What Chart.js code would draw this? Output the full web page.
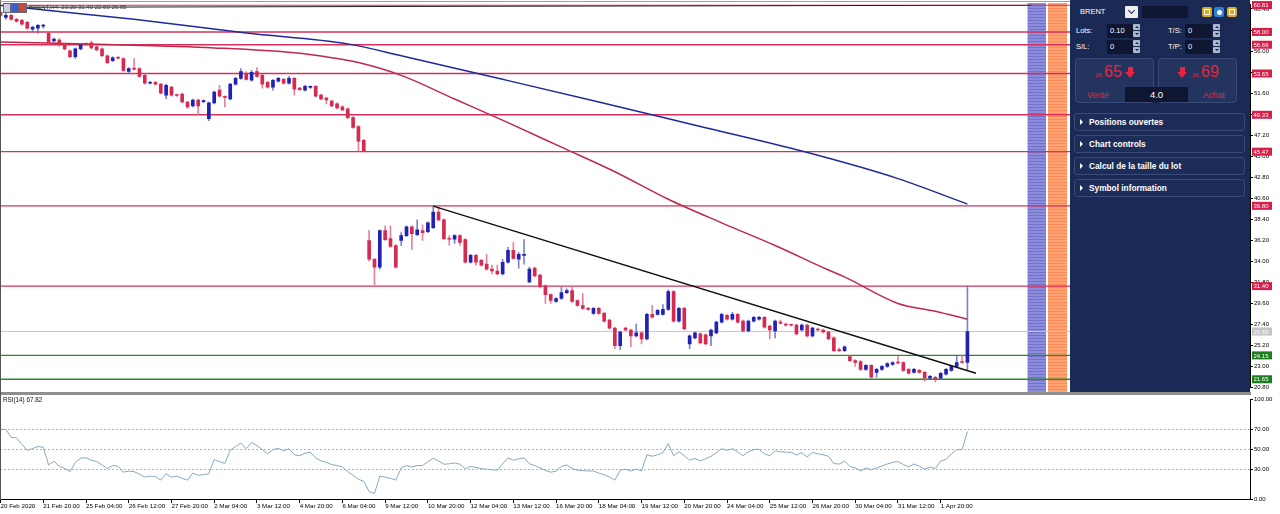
<!DOCTYPE html>
<html><head><meta charset="utf-8">
<script src="https://cdn.jsdelivr.net/npm/chart.js@4.4.1/dist/chart.umd.min.js"></script>
<style>
html,body{margin:0;padding:0;background:#fff;width:1280px;height:514px;overflow:hidden;font-family:"Liberation Sans",Arial,sans-serif;}
#wrap{position:relative;width:1280px;height:514px;}
#priceCanvas{position:absolute;left:0;top:0;z-index:2;}
#rsiCanvas{position:absolute;left:0;top:395px;z-index:2;}
.band{position:absolute;top:3px;height:389px;z-index:1;}
#bandBlue{left:1028px;width:18px;background:repeating-linear-gradient(to bottom,#8c8cdc 0px,#8c8cdc 2px,#7272c8 2px,#7272c8 3px);}
#bandOrange{left:1048px;width:19px;background:repeating-linear-gradient(to bottom,#ffa274 0px,#ffa274 2px,#ff8a56 2px,#ff8a56 3px);}
#bandLine{position:absolute;left:1027px;top:3px;width:1px;height:389px;background:#c8c8c8;z-index:1;}
#sep{position:absolute;left:0;top:392px;width:1251px;height:3px;background:#8e8e8e;z-index:3;}
#lborder{position:absolute;left:0;top:0;width:1px;height:500px;background:#555;z-index:3;}
#tborder{position:absolute;left:0;top:1px;width:1250px;height:1px;background:#a0a0a0;z-index:3;}
.hdr{position:absolute;z-index:4;font-size:6px;color:#333;white-space:nowrap;}
.mini{position:absolute;top:3px;width:6px;height:8px;z-index:4;border:1px solid #667;}
#panel{position:absolute;left:1070px;top:0;width:180px;height:392px;background:#1b2a55;z-index:5;color:#fff;}
#panel div{position:absolute;}
.t{white-space:nowrap;line-height:1;}
.lab{font-size:7.5px;}
.inp{background:#0e1631;color:#fff;font-size:7.5px;line-height:14px;padding-left:3px;box-sizing:border-box;border-radius:1px;}
.spin{width:7px;height:14px;}
.spin .up,.spin .dn{position:absolute;left:0;width:7px;height:6px;background:#aeb8cf;border-radius:1px;}
.spin .up{top:0;} .spin .dn{top:7px;}
.spin .up:after{content:"";position:absolute;left:1.5px;top:1.5px;border-left:2px solid transparent;border-right:2px solid transparent;border-bottom:2.5px solid #1b2a55;}
.spin .dn:after{content:"";position:absolute;left:1.5px;top:2px;border-left:2px solid transparent;border-right:2px solid transparent;border-top:2.5px solid #1b2a55;}
.btn{background:#23345f;border:1px solid #3a4a78;border-radius:4px;box-sizing:border-box;}
.red{color:#e8243f;}
.arrow{width:11px;height:12px;}
.arrow .stem{left:3px;top:0;width:5px;height:6px;background:#e8243f;}
.arrow .head{left:0;top:5px;width:0;height:0;border-left:5.5px solid transparent;border-right:5.5px solid transparent;border-top:6px solid #e8243f;}
.row{left:4px;width:171px;height:18px;border:1px solid #3a4a78;border-radius:3px;box-sizing:border-box;background:#1d2d5a;}
.row .tri{left:5px;top:5px;width:0;height:0;border-left:3.5px solid #fff;border-top:3px solid transparent;border-bottom:3px solid transparent;}
.row .txt{left:14px;top:0;line-height:16px;font-size:8.3px;font-weight:bold;white-space:nowrap;}
.ico{top:7px;width:10px;height:10px;border-radius:2px;}
</style>
</head>
<body>
<div id="wrap">
  <div id="bandLine"></div>
  <div id="bandBlue" class="band"></div>
  <div id="bandOrange" class="band"></div>
  <canvas id="priceCanvas" width="1280" height="392" style="width:1280px;height:392px;"></canvas>
  <canvas id="rsiCanvas" width="1280" height="119" style="width:1280px;height:119px;"></canvas>
  <div id="sep"></div>
  <div id="lborder"></div>
  <div id="tborder"></div>
  <div class="mini" style="left:3px;background:#c9cfe0;"></div>
  <div class="mini" style="left:11px;background:#3c5ccc;"></div>
  <div class="mini" style="left:19px;background:#c84848;"></div>
  <div class="hdr" style="left:29px;top:4px;">BRENT,H4&nbsp; 23.20 31.40 22.60 26.65</div>
  <div class="hdr" style="left:3px;top:396px;font-size:6.3px;color:#111;">RSI(14) 67.82</div>

  <div id="panel">
    <div class="t" style="left:10px;top:8px;font-size:7.5px;">BRENT</div>
    <div style="left:55px;top:6px;width:13px;height:12px;background:#eeeeee;border-radius:1px;">
      <div style="left:3.5px;top:2px;width:4px;height:4px;border-right:1.5px solid #1b2a55;border-bottom:1.5px solid #1b2a55;transform:rotate(45deg);"></div>
    </div>
    <div class="inp" style="left:72px;top:6px;width:46px;height:12px;"></div>
    <div class="ico" style="left:132px;background:#d6a92a;"><div style="left:2px;top:2px;width:4px;height:4px;border:1px solid #fff;"></div></div>
    <div class="ico" style="left:144px;background:#2f7fd8;"><div style="left:2.5px;top:2.5px;width:5px;height:5px;border-radius:50%;background:#fff;"></div></div>
    <div class="ico" style="left:157px;background:#d6a92a;"><div style="left:2px;top:2px;width:4px;height:4px;border:1px dashed #fff;"></div></div>

    <div class="t lab" style="left:6px;top:27px;">Lots:</div>
    <div class="inp" style="left:37px;top:24px;width:26px;height:14px;">0.10</div>
    <div class="spin" style="left:63px;top:24px;"><div class="up"></div><div class="dn"></div></div>
    <div class="t lab" style="left:98px;top:27px;">T/S:</div>
    <div class="inp" style="left:115px;top:24px;width:27px;height:14px;">0</div>
    <div class="spin" style="left:143px;top:24px;"><div class="up"></div><div class="dn"></div></div>

    <div class="t lab" style="left:6px;top:43px;">S/L:</div>
    <div class="inp" style="left:37px;top:40px;width:26px;height:14px;">0</div>
    <div class="spin" style="left:63px;top:40px;"><div class="up"></div><div class="dn"></div></div>
    <div class="t lab" style="left:98px;top:43px;">T/P:</div>
    <div class="inp" style="left:115px;top:40px;width:27px;height:14px;">0</div>
    <div class="spin" style="left:143px;top:40px;"><div class="up"></div><div class="dn"></div></div>

    <div class="btn" style="left:5px;top:58px;width:79px;height:45px;"></div>
    <div class="btn" style="left:88px;top:58px;width:79px;height:45px;"></div>
    <div class="t red" style="left:25px;top:72px;font-size:6px;">26.</div>
    <div class="t red" style="left:34px;top:64px;font-size:16px;">65</div>
    <div class="arrow" style="left:55px;top:67px;"><div class="stem"></div><div class="head"></div></div>
    <div class="t red" style="left:17px;top:91px;font-size:8.5px;">Vente</div>
    <div class="arrow" style="left:107px;top:67px;"><div class="stem"></div><div class="head"></div></div>
    <div class="t red" style="left:122px;top:72px;font-size:6px;">26.</div>
    <div class="t red" style="left:131px;top:64px;font-size:16px;">69</div>
    <div class="t red" style="left:133px;top:91px;font-size:8.5px;">Achat</div>
    <div class="inp" style="left:55px;top:87px;width:63px;height:15px;text-align:center;padding-left:0;font-size:9.5px;line-height:15px;">4.0</div>

    <div class="row" style="top:113px;"><div class="tri"></div><div class="txt">Positions ouvertes</div></div>
    <div class="row" style="top:135px;"><div class="tri"></div><div class="txt">Chart controls</div></div>
    <div class="row" style="top:157px;"><div class="tri"></div><div class="txt">Calcul de la taille du lot</div></div>
    <div class="row" style="top:179px;"><div class="tri"></div><div class="txt">Symbol information</div></div>
  </div>
</div>

<script>
// ---------------- DATA ----------------
const timeLabels = ["20 Feb 2020","21 Feb 20:00","25 Feb 04:00","26 Feb 12:00","27 Feb 20:00","2 Mar 04:00","3 Mar 12:00","4 Mar 20:00","6 Mar 04:00","9 Mar 12:00","10 Mar 20:00","12 Mar 04:00","13 Mar 12:00","16 Mar 20:00","18 Mar 04:00","19 Mar 12:00","20 Mar 20:00","24 Mar 04:00","25 Mar 12:00","26 Mar 20:00","30 Mar 04:00","31 Mar 12:00","1 Apr 20:00"];
const timeTickBars = [0,8,16,24,32,40,48,56,64,72,80,88,96,104,112,120,128,136,144,152,160,168,176];

const priceTicks = [20.8,23.0,25.2,27.4,29.6,31.8,34.0,36.2,38.4,40.6,42.8,45.0,47.2,49.4,51.6,53.8,56.0,58.2,60.4];
const rsiTicks = [0,30,50,70,100];
const rsiLevels = [30,50,70];

const open = [60.04,59.52,59.73,59.32,59.22,59.01,58.29,58.39,58.60,57.88,57.05,57.16,56.64,56.02,55.41,56.23,56.74,56.85,56.44,56.23,
55.51,55.00,55.35,55.20,53.86,54.17,54.17,53.45,52.63,52.73,52.53,51.39,52.22,51.39,51.50,50.67,50.26,50.88,50.70,48.92,
50.57,51.91,51.19,50.98,52.53,53.14,53.66,52.94,53.86,53.45,52.73,52.22,52.84,53.04,52.63,53.14,52.12,51.91,52.20,52.32,
51.39,51.08,50.77,50.47,50.16,49.95,49.03,48.10,46.66,36.17,34.21,33.39,37.20,36.37,35.65,36.17,36.68,37.61,36.78,37.20,
37.10,37.51,39.15,38.33,36.40,36.30,36.68,36.27,33.90,34.62,34.11,33.70,33.18,32.98,32.67,33.90,35.14,34.21,34.62,31.84,
33.28,32.56,31.43,30.51,29.79,30.10,30.71,30.92,29.89,29.37,29.07,28.55,29.07,28.55,27.84,27.01,25.16,27.01,26.81,26.19,
26.50,25.88,28.45,28.45,28.45,28.96,30.82,27.73,29.07,25.36,25.98,26.40,26.29,26.19,26.50,27.63,28.35,27.94,28.45,27.73,
26.70,27.73,27.94,28.14,27.22,26.70,27.63,27.42,27.32,27.32,26.81,27.32,26.19,26.91,26.81,26.60,25.98,24.75,24.64,24.02,
23.61,23.51,22.69,23.10,22.38,22.69,23.00,23.20,23.41,23.41,22.69,22.38,22.59,22.38,21.76,21.86,21.76,22.18,22.59,22.99,
23.51,23.41];
const high = [60.24,59.94,59.83,59.42,59.32,59.11,58.60,58.80,58.80,57.98,57.36,57.30,56.74,56.12,56.33,56.74,56.85,57.05,56.60,56.33,
55.61,55.41,55.45,55.30,54.27,55.20,54.27,53.55,52.83,52.83,52.63,52.53,52.32,51.50,51.60,50.77,50.98,50.98,50.90,50.67,
51.80,52.42,51.30,52.63,53.25,54.17,53.86,53.97,54.28,53.55,52.83,53.04,53.25,53.14,53.35,53.25,52.20,52.42,52.35,52.42,
51.50,51.19,50.88,50.57,50.26,50.06,49.13,48.20,46.76,37.20,34.30,37.30,37.71,37.71,35.75,36.99,37.71,37.71,38.33,37.81,
38.12,39.77,39.67,38.43,36.68,36.78,36.78,36.37,34.73,34.73,34.21,34.73,33.59,33.59,34.21,35.45,35.96,34.93,36.27,33.39,
33.39,32.67,31.53,30.62,30.20,31.33,31.12,31.33,30.00,30.61,29.17,29.17,29.17,28.65,27.94,27.12,26.70,27.12,26.91,27.42,
26.60,28.55,29.37,28.96,29.48,31.02,30.92,29.17,29.17,26.30,26.60,26.50,26.40,26.91,27.73,28.55,28.45,28.65,28.55,27.84,
27.84,28.24,28.24,28.24,27.32,27.84,27.84,27.53,27.42,27.42,27.42,27.42,27.11,27.01,26.91,26.70,26.09,24.95,25.16,24.13,
23.71,23.61,23.20,23.20,22.79,23.10,23.40,23.51,24.02,23.51,22.79,22.79,22.69,22.48,22.07,21.97,22.38,22.79,23.10,24.13,
24.13,31.40];
const low = [59.63,59.32,59.22,59.01,58.70,58.29,58.08,57.88,58.39,56.75,56.95,56.50,56.13,55.30,55.20,56.13,56.60,56.23,56.00,55.41,
54.69,54.90,55.15,53.87,53.76,54.00,53.25,52.53,52.53,52.43,51.50,50.98,51.29,51.25,50.57,50.00,50.16,49.34,50.60,48.72,
50.47,51.19,50.16,50.88,52.43,53.04,52.94,52.84,53.25,52.12,52.12,51.91,52.73,52.53,52.53,51.39,51.85,51.81,52.10,51.19,
50.88,50.47,50.16,49.95,49.75,48.92,47.90,45.53,45.43,34.00,31.53,33.18,36.17,35.45,33.29,35.65,36.58,35.24,36.68,36.17,
37.00,37.41,38.23,36.27,35.65,35.86,35.65,33.80,33.80,33.59,33.49,33.08,32.67,32.57,32.57,33.80,34.21,33.28,33.70,31.74,
32.36,31.22,29.58,29.58,29.69,30.00,30.60,29.69,29.27,28.96,28.86,28.45,28.45,27.63,26.91,24.85,24.75,26.70,25.05,26.09,
25.36,25.78,28.04,28.35,28.35,28.86,27.63,27.63,26.81,24.85,25.88,25.36,25.26,25.16,26.40,27.53,27.84,27.84,27.53,26.60,
26.60,27.63,27.84,27.01,25.88,25.98,27.42,27.22,27.22,26.29,26.70,26.09,26.09,26.70,26.50,25.78,24.54,24.54,24.54,23.51,
22.99,22.59,22.59,21.76,21.86,22.59,22.90,23.10,23.25,22.48,22.18,22.28,22.28,21.45,21.66,21.35,21.66,22.07,22.48,22.89,
23.30,22.59];
const close = [59.73,59.73,59.32,59.11,58.80,58.39,58.49,58.70,58.62,56.85,57.26,56.64,56.23,55.41,56.23,56.64,56.70,56.33,56.13,55.51,
54.79,55.30,55.25,53.97,54.17,54.10,53.35,52.63,52.73,52.53,51.60,52.42,51.39,51.35,50.67,50.16,50.88,50.26,50.80,50.57,
51.70,51.29,51.15,52.53,53.14,53.86,53.04,53.76,53.35,52.53,52.22,52.94,53.14,52.63,53.14,52.01,51.95,52.32,52.25,51.29,
50.98,50.88,50.26,50.06,49.85,49.03,48.00,46.56,45.53,34.21,33.39,37.20,36.27,35.55,33.39,36.68,37.61,36.89,37.30,36.99,
38.02,39.15,38.33,36.37,36.30,36.68,35.96,33.90,34.62,33.90,33.59,33.18,32.98,32.67,33.90,35.14,34.31,34.73,34.73,33.18,
32.46,31.33,30.51,29.89,30.10,30.71,30.92,29.79,29.37,29.07,28.96,29.07,28.55,27.73,27.01,25.16,26.60,26.81,26.19,26.50,
25.88,28.45,28.14,28.86,28.96,30.82,27.73,29.07,26.91,26.19,26.50,25.46,25.36,26.81,27.63,28.45,27.94,28.45,27.63,26.70,
27.73,28.14,28.14,27.11,26.81,27.73,27.53,27.32,27.30,26.40,27.32,26.19,27.01,26.81,26.60,25.88,24.64,24.64,25.05,23.61,
23.41,22.69,23.10,21.86,22.69,23.00,23.30,23.41,23.35,22.59,22.28,22.69,22.38,21.76,21.97,21.66,22.28,22.69,23.00,23.41,
23.41,26.65];

const rsi = [70,70,62,61.4,55,49,50.6,52.8,52,34.3,38,33,30.6,27.5,36.8,41,41.5,39,37.7,34.3,
30.6,33.7,33,27,28,27.5,25,22,23,22.6,19,25.4,22,23,20.8,19,26,23.8,24.5,25.4,
39.8,37.4,35.8,49,52.8,56.2,50.6,56.8,53.7,49.7,45.4,49.7,51,48.5,50.6,44.5,43.5,46,47.2,41.4,
38.3,36.8,34.6,33.7,32.2,27.5,23.8,19.8,17.7,7.5,5.5,23,22,20.8,19,31.2,33.7,32.2,33.7,33.7,
37.4,41,38.3,35,35.4,36.2,35,30.6,32.8,31.8,30.6,30,29.4,29,35.4,41.4,39,40.4,41.4,35.4,
33.7,31.2,28.8,27,28,32.8,34.3,30.6,29,28.5,28.2,28.2,26,24.5,22,19,29,30,28.2,30,
28.2,44.5,43,44.5,46.6,55.8,43.5,47.5,43.5,39.2,40.8,38.3,40.5,43,46.6,50.6,49,50.6,47.5,43.5,
47.5,49.7,50,45.4,43.5,48.5,47.5,47.2,46.9,44.2,46.6,42.3,46.9,45.4,44.5,43,35.5,35.2,38,32.8,
31.2,28.2,31.2,29.4,31.2,33,35.2,36.8,37.7,34.6,32.5,35.2,33,30,32.2,30.6,38.3,39.8,45.4,49.7,
49.7,67.8];

// moving averages (sampled knots: bar index, value)
const maRedBars = [0,20,40,55,62,67,75,85,95,105,115,125,135,145,155,158,168,175,181];
const maRedVals = [56.95,56.69,56.33,55.82,55.30,54.79,53.45,50.98,48.51,45.94,43.37,40.49,38.02,35.65,33.08,32.36,29.58,28.76,27.93];
const maBlueBars = [0,10,25,46,65,75,94,112,131,150,168,181];
const maBlueVals = [60.76,60.19,59.32,57.88,56.75,55.51,53.04,50.67,48.10,45.53,42.65,39.98];
// trend lines (bar index, value)
const trendBars = [81,182.6];
const trendVals = [39.77,22.28];
const topLineBars = [3,193];
const topLineVals = [60.58,60.80];

// horizontal price levels
const redLevels = [60.81,58.00,56.66,53.65,49.33,45.47,39.80,31.40];
const greenLevels = [24.15,21.65];
const currentLevel = [26.65];

// ---------------- CONFIG ----------------
const FONT = '"Liberation Sans", Arial, sans-serif';
const X_MIN = -0.1, X_MAX = 233.9;
const BLUE = '#2121b3', RED = '#d62a50';
const BLUE_W = 'rgba(90,100,190,0.8)', RED_W = 'rgba(222,110,140,0.85)';
const barIndex = open.map((_, i) => i);
const isUp = i => close[i] >= open[i];

function pts(xs, ys){ return xs.map((x, k) => ({x: x, y: ys[k]})); }
function levelDs(v, color, width){
  return {type:'line', data:[{x:X_MIN, y:v},{x:X_MAX, y:v}], borderColor:color, borderWidth:width, pointRadius:0, order:10};
}

const levelSets = [
  ...redLevels.map(v => levelDs(v, '#d8305a', 1.4)),
  ...greenLevels.map(v => levelDs(v, '#2a8a2a', 1.4)),
  ...currentLevel.map(v => levelDs(v, '#c8c8c8', 1))
];

const tags = [
  ...redLevels.map(v => ({v, bg:'#d6204a'})),
  ...greenLevels.map(v => ({v, bg:'#1e7d1e'})),
  ...currentLevel.map(v => ({v, bg:'#c4c4c4'}))
];

const priceTagPlugin = {
  id:'priceTags',
  afterDraw(chart){
    const ys = chart.scales.y, ctx = chart.ctx, r = chart.chartArea.right;
    ctx.save();
    ctx.font = '6px ' + FONT;
    ctx.textBaseline = 'middle';
    ctx.textAlign = 'left';
    tags.forEach(t => {
      const py = ys.getPixelForValue(t.v);
      ctx.fillStyle = t.bg;
      ctx.fillRect(r + 2, py - 4, 20, 8);
      ctx.fillStyle = '#fff';
      ctx.fillText(t.v.toFixed(2), r + 3.5, py + 0.5);
    });
    ctx.restore();
  }
};

new Chart(document.getElementById('priceCanvas'), {
  type:'bar',
  data:{
    datasets:[
      {type:'line', data:pts(trendBars, trendVals), borderColor:'#111', borderWidth:1.5, pointRadius:0, order:1},
      {type:'line', data:pts(topLineBars, topLineVals), borderColor:'#222', borderWidth:1, pointRadius:0, order:1},
      {type:'bar', data:barIndex.map(i => ({x:i, y:[open[i], close[i]]})), grouped:false, barThickness:3, minBarLength:1,
        backgroundColor:c => isUp(c.dataIndex) ? BLUE : RED, borderWidth:0, order:2},
      {type:'bar', data:barIndex.map(i => ({x:i, y:[low[i], high[i]]})), grouped:false, barThickness:1,
        backgroundColor:c => isUp(c.dataIndex) ? BLUE_W : RED_W, borderWidth:0, order:3},
      {type:'line', data:pts(maRedBars, maRedVals), borderColor:'#c0284c', borderWidth:1.5, pointRadius:0, tension:0.4, cubicInterpolationMode:'monotone', order:5},
      {type:'line', data:pts(maBlueBars, maBlueVals), borderColor:'#1f2a9a', borderWidth:1.5, pointRadius:0, tension:0.4, cubicInterpolationMode:'monotone', order:6},
      ...levelSets
    ]
  },
  options:{
    responsive:false, animation:false, events:[],
    layout:{autoPadding:false, padding:{top:3, left:0, right:0, bottom:0}},
    plugins:{legend:{display:false}, tooltip:{enabled:false}},
    scales:{
      x:{type:'linear', min:X_MIN, max:X_MAX, offset:false, display:false},
      y:{type:'linear', position:'right', min:20.8, max:60.86,
        afterFit(s){ s.width = 30; },
        afterBuildTicks(s){ s.ticks = priceTicks.map(v => ({value:v})); },
        ticks:{font:{family:FONT, size:6}, color:'#000', padding:1, autoSkip:false, callback:v => Number(v).toFixed(2)},
        grid:{drawOnChartArea:false, drawTicks:true, tickLength:3, tickColor:'#000'},
        border:{display:true, color:'#000', width:1}
      }
    }
  },
  plugins:[priceTagPlugin]
});

new Chart(document.getElementById('rsiCanvas'), {
  type:'line',
  data:{datasets:[{data:barIndex.map(i => ({x:i, y:rsi[i]})), borderColor:'#86a8c0', borderWidth:1, pointRadius:0, tension:0}]},
  options:{
    responsive:false, animation:false, events:[],
    layout:{autoPadding:false, padding:{top:1, left:0, right:0, bottom:0}},
    plugins:{legend:{display:false}, tooltip:{enabled:false}},
    scales:{
      x:{type:'linear', min:X_MIN, max:X_MAX, offset:false,
        afterFit(s){ s.height = 15; },
        afterBuildTicks(s){ s.ticks = timeTickBars.map(v => ({value:v})); },
        ticks:{autoSkip:false, maxRotation:0, minRotation:0, align:'start', padding:0, font:{family:FONT, size:6.2}, color:'#000',
          callback:(v, i) => timeLabels[i]},
        grid:{drawOnChartArea:false, drawTicks:true, tickLength:4, tickColor:'#000'},
        border:{display:true, color:'#000', width:1}
      },
      y:{type:'linear', position:'right', min:0, max:100,
        afterFit(s){ s.width = 30; },
        afterBuildTicks(s){ s.ticks = rsiTicks.map(v => ({value:v})); },
        ticks:{font:{family:FONT, size:6}, color:'#000', padding:1, autoSkip:false, callback:v => Number(v).toFixed(2)},
        grid:{color:c => (c.tick && rsiLevels.includes(c.tick.value)) ? '#b4b4b4' : 'rgba(0,0,0,0)', drawTicks:true, tickLength:3, tickColor:'#000'},
        border:{display:true, color:'#000', width:1, dash:[2,2]}
      }
    }
  }
});
</script>
</body></html>
